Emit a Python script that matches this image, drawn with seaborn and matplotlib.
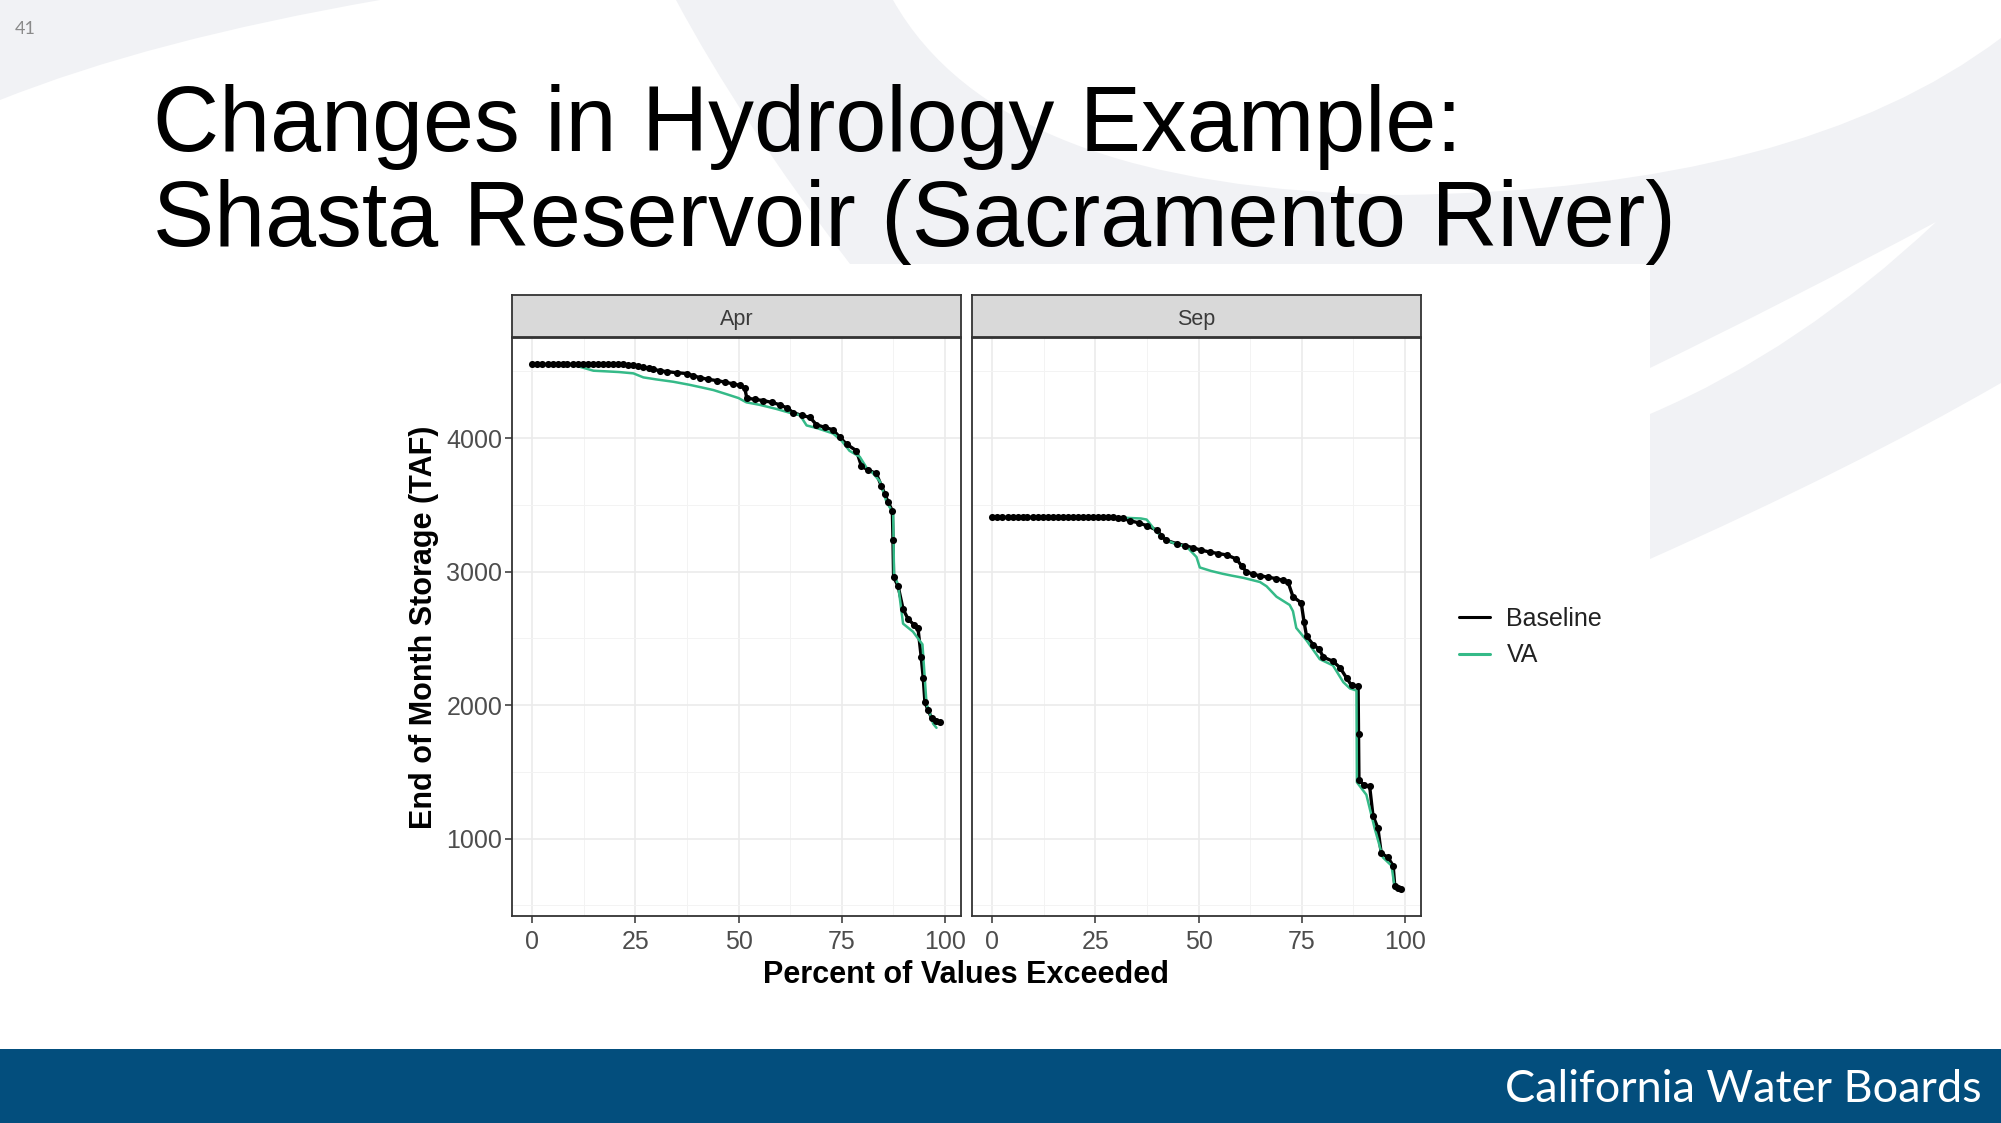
import numpy as np
import pandas as pd
import seaborn as sns
import matplotlib.pyplot as plt
from matplotlib.path import Path
from matplotlib.patches import PathPatch, Rectangle
from matplotlib.lines import Line2D

# Exceedance curves (percent exceeded vs end of month storage, TAF)
apr_base_pct = [0, 1.2, 2.4, 3.7, 4.9, 6.1, 7.3, 8.5, 9.8, 11.0, 12.2, 13.4, 14.6, 15.9, 17.1,
                18.3, 19.5, 20.7, 22.0, 23.2, 24.4, 25.6, 26.9, 28.2, 29.3, 31.0, 32.6, 35.0,
                37.4, 39.0, 40.6, 42.7, 44.7, 46.7, 48.7, 50.3, 51.5, 52.0, 54.0, 56.0, 58.0,
                60.0, 61.8, 63.3, 65.3, 67.3, 68.9, 71.0, 72.9, 74.6, 76.2, 78.6, 79.8, 81.5,
                83.4, 84.6, 85.5, 86.3, 87.3, 87.45, 87.6, 88.7, 89.9, 91.1, 92.6, 93.5, 94.3,
                94.8, 95.2, 96.0, 96.8, 97.8, 98.8]
apr_base_taf = [4552, 4552, 4552, 4552, 4552, 4552, 4552, 4552, 4552, 4552, 4552, 4552, 4552, 4552, 4552,
                4552, 4552, 4552, 4552, 4550, 4545, 4540, 4533, 4522, 4515, 4505, 4498, 4490,
                4484, 4468, 4453, 4440, 4431, 4420, 4406, 4395, 4375, 4300, 4290, 4281, 4268,
                4250, 4225, 4190, 4170, 4156, 4100, 4080, 4062, 4005, 3955, 3905, 3790, 3760,
                3735, 3645, 3580, 3520, 3455, 3240, 2960, 2890, 2720, 2645, 2600, 2580, 2360,
                2200, 2020, 1960, 1905, 1880, 1870]

apr_va_pct = [0, 5, 10, 12, 14.8, 18, 21, 24.5, 26.9, 30, 34.2, 38, 41, 43.9, 47, 50, 51.9, 55,
              59, 62.4, 64.9, 66.5, 69, 72.9, 75, 76.9, 79.4, 81, 82.5, 84.3, 85.9, 87.5, 87.7,
              88.7, 89.9, 92.3, 93.5, 94.6, 95.6, 96.5, 97.2, 98.0]
apr_va_taf = [4552, 4552, 4548, 4530, 4505, 4500, 4495, 4485, 4455, 4440, 4422, 4400, 4380, 4360,
              4330, 4300, 4268, 4250, 4220, 4190, 4172, 4095, 4075, 4035, 3980, 3905, 3860, 3780,
              3740, 3675, 3520, 3440, 2985, 2900, 2610, 2550, 2500, 2455, 2005, 1930, 1860, 1830]

sep_base_pct = [0, 1.2, 2.4, 3.7, 4.9, 6.1, 7.3, 8.5, 9.8, 11.0, 12.2, 13.4, 14.6, 15.9, 17.1,
                18.3, 19.5, 20.7, 22.0, 23.2, 24.4, 25.6, 26.8, 28.0, 29.3, 30.5, 31.7, 33.4,
                35.5, 37.4, 39.8, 41.0, 42.2, 44.7, 46.7, 48.7, 50.7, 52.7, 54.8, 56.8, 59.2,
                60.5, 61.6, 63.2, 64.9, 66.9, 68.9, 70.5, 71.7, 72.9, 74.9, 75.6, 76.2, 77.8,
                79.2, 80.3, 82.6, 84.3, 85.9, 87.1, 88.7, 88.8, 88.9, 90.2, 91.5, 92.3, 93.5,
                94.3, 95.9, 97.2, 97.6, 98.4, 99.2]
sep_base_taf = [3406, 3406, 3406, 3406, 3406, 3406, 3406, 3406, 3406, 3406, 3406, 3406, 3406, 3406, 3406,
                3406, 3406, 3406, 3406, 3406, 3406, 3406, 3406, 3406, 3406, 3404, 3398, 3381,
                3365, 3344, 3312, 3270, 3234, 3209, 3195, 3178, 3160, 3147, 3135, 3125, 3094,
                3040, 3000, 2980, 2969, 2958, 2947, 2935, 2922, 2812, 2766, 2620, 2516, 2453,
                2420, 2359, 2328, 2281, 2203, 2147, 2141, 1780, 1437, 1400, 1391, 1172, 1078,
                891, 859, 797, 641, 630, 619]

sep_va_pct = [0, 30.9, 33, 36, 37.4, 39.8, 42.2, 44.7, 47.1, 49.5, 50.3, 53, 55.8, 58, 60.9,
              64.9, 66.5, 68.9, 72.1, 72.9, 73.7, 76.2, 79.4, 82.6, 85.1, 86.7, 88.3, 88.4,
              90.7, 92.7, 94.7, 96.8, 97.6, 98.8]
sep_va_taf = [3406, 3406, 3402, 3398, 3390, 3297, 3234, 3205, 3187, 3109, 3031, 3005, 2984, 2970,
              2953, 2922, 2890, 2812, 2750, 2703, 2578, 2484, 2344, 2297, 2172, 2125, 2109, 1422,
              1328, 1078, 859, 797, 625, 609]

months = ['Apr', 'Sep']
scenarios = ['Baseline', 'VA']
x_ticks = [0, 25, 50, 75, 100]
y_ticks = [1000, 2000, 3000, 4000]

GREEN = '#35BA88'
W, H = 2001, 1123


def frame(month, scen, pct, taf):
    return pd.DataFrame({'Month': month, 'Scenario': scen, 'pct': pct, 'taf': taf})


df = pd.concat([
    frame('Apr', 'Baseline', apr_base_pct, apr_base_taf),
    frame('Apr', 'VA', apr_va_pct, apr_va_taf),
    frame('Sep', 'Baseline', sep_base_pct, sep_base_taf),
    frame('Sep', 'VA', sep_va_pct, sep_va_taf),
], ignore_index=True)

sns.set_style('white')
plt.rcParams['font.family'] = ['Liberation Sans', 'DejaVu Sans']

fig = plt.figure(figsize=(W / 100, H / 100), dpi=100)

# slide background: faint swooshes, white picture area, blue footer
bg = fig.add_axes([0, 0, 1, 1], zorder=-1)
bg.set_xlim(0, W)
bg.set_ylim(H, 0)
bg.axis('off')
SW = '#F1F2F5'
M, C, L = Path.MOVETO, Path.CURVE3, Path.LINETO
top_left = Path([(0, 0), (380, 0), (150, 40), (0, 100), (0, 0)], [M, L, C, C, L])
bg.add_patch(PathPatch(top_left, fc=SW, ec='none'))
swoosh = Path([(676, 0), (893, 0), (1000, 190), (1400, 195), (1800, 190), (2001, 38),
               (2001, 383), (1850, 470), (1650, 559), (1650, 414), (1800, 350), (1936, 222),
               (1790, 300), (1650, 368), (1640, 400), (900, 400), (850, 264), (740, 120), (676, 0)],
              [M, L, C, C, C, C, L, C, C, L, C, C, C, C, L, L, L, C, C])
bg.add_patch(PathPatch(swoosh, fc=SW, ec='none'))
bg.add_patch(Rectangle((300, 264), 1350, 785, fc='white', ec='none'))
bg.add_patch(Rectangle((0, 1049), W, H - 1049, fc='#034E7D', ec='none'))

fig.text(15 / W, 1 - 29 / H, '41', fontsize=13, color='#8A8A8A', family=['Lato', 'DejaVu Sans'],
         ha='left', va='center')
fig.text(1982 / W, 1 - 1089 / H, 'California Water Boards', fontsize=32.5, color='white',
         family=['Lato', 'DejaVu Sans'], ha='right', va='center')

fig.text(153 / W, 1 - 151 / H, 'Changes in Hydrology Example:', fontsize=66, color='black',
         ha='left', va='baseline')
fig.text(153 / W, 1 - 246 / H, 'Shasta Reservoir (Sacramento River)', fontsize=66, color='black',
         ha='left', va='baseline')

# facet panels
panel_left = [512, 972]
panel_w = 449
panel_top, panel_bot = 338, 916
strip_top = 295

for i, m in enumerate(months):
    ax = fig.add_axes([panel_left[i] / W, 1 - panel_bot / H, panel_w / W, (panel_bot - panel_top) / H])
    sub = df[df['Month'] == m]
    base = sub[sub['Scenario'] == 'Baseline']
    va = sub[sub['Scenario'] == 'VA']
    sns.lineplot(data=base, x='pct', y='taf', color='black', lw=2.4, sort=False,
                 estimator=None, ax=ax, zorder=3)
    sns.lineplot(data=va, x='pct', y='taf', color=GREEN, lw=1.8, sort=False,
                 estimator=None, ax=ax, zorder=4)
    sns.scatterplot(data=base, x='pct', y='taf', color='black', s=26, linewidth=0,
                    ax=ax, zorder=5, legend=False)

    ax.set_xlim(-4.95, 103.95)
    ax.set_ylim(420, 4750)
    ax.set_xticks(x_ticks)
    ax.set_xticks([12.5, 37.5, 62.5, 87.5], minor=True)
    ax.set_yticks(y_ticks)
    ax.set_yticks([500, 1500, 2500, 3500, 4500], minor=True)
    ax.grid(which='major', color='#EBEBEB', lw=1.2)
    ax.grid(which='minor', color='#F3F3F3', lw=0.7)
    ax.set_axisbelow(True)
    for s in ax.spines.values():
        s.set_visible(True)
        s.set_color('#333333')
        s.set_linewidth(1.3)
    ax.tick_params(axis='both', which='major', bottom=True, left=True, length=5, width=1.1,
                   color='#333333', labelsize=18, labelcolor='#4D4D4D', pad=2)
    ax.tick_params(axis='x', which='major', pad=5)
    ax.tick_params(which='minor', length=0)
    ax.set_xlabel('')
    ax.set_ylabel('')
    if i == 0:
        ax.set_ylabel('End of Month Storage (TAF)', fontsize=22, fontweight='bold',
                      color='black', va='center')
        ax.yaxis.set_label_coords((424 - 512) / panel_w, 0.5)
    else:
        ax.tick_params(axis='y', left=False, labelleft=False)

    sax = fig.add_axes([panel_left[i] / W, 1 - (panel_top - 1) / H, panel_w / W, (panel_top - 1 - strip_top) / H])
    sax.set_facecolor('#D9D9D9')
    sax.set_xticks([])
    sax.set_yticks([])
    for s in sax.spines.values():
        s.set_visible(True)
        s.set_color('#333333')
        s.set_linewidth(1.3)
    sax.text(0.5, 0.42, m, ha='center', va='center', fontsize=15.5, color='#3A3A3A',
             transform=sax.transAxes)

fig.text(966 / W, 1 - 975 / H, 'Percent of Values Exceeded', fontsize=22, fontweight='bold',
         color='black', ha='center', va='center')

handles = [Line2D([], [], color='black', lw=2.2), Line2D([], [], color=GREEN, lw=2.2)]
fig.legend(handles=handles, labels=scenarios, loc='center left',
           bbox_to_anchor=(1459 / W, 1 - 637 / H), frameon=False, fontsize=18,
           labelcolor='#222222', handlelength=1.25, handletextpad=0.65, labelspacing=0.5,
           borderpad=0, borderaxespad=0)

fig.savefig('out.png', dpi=100)
